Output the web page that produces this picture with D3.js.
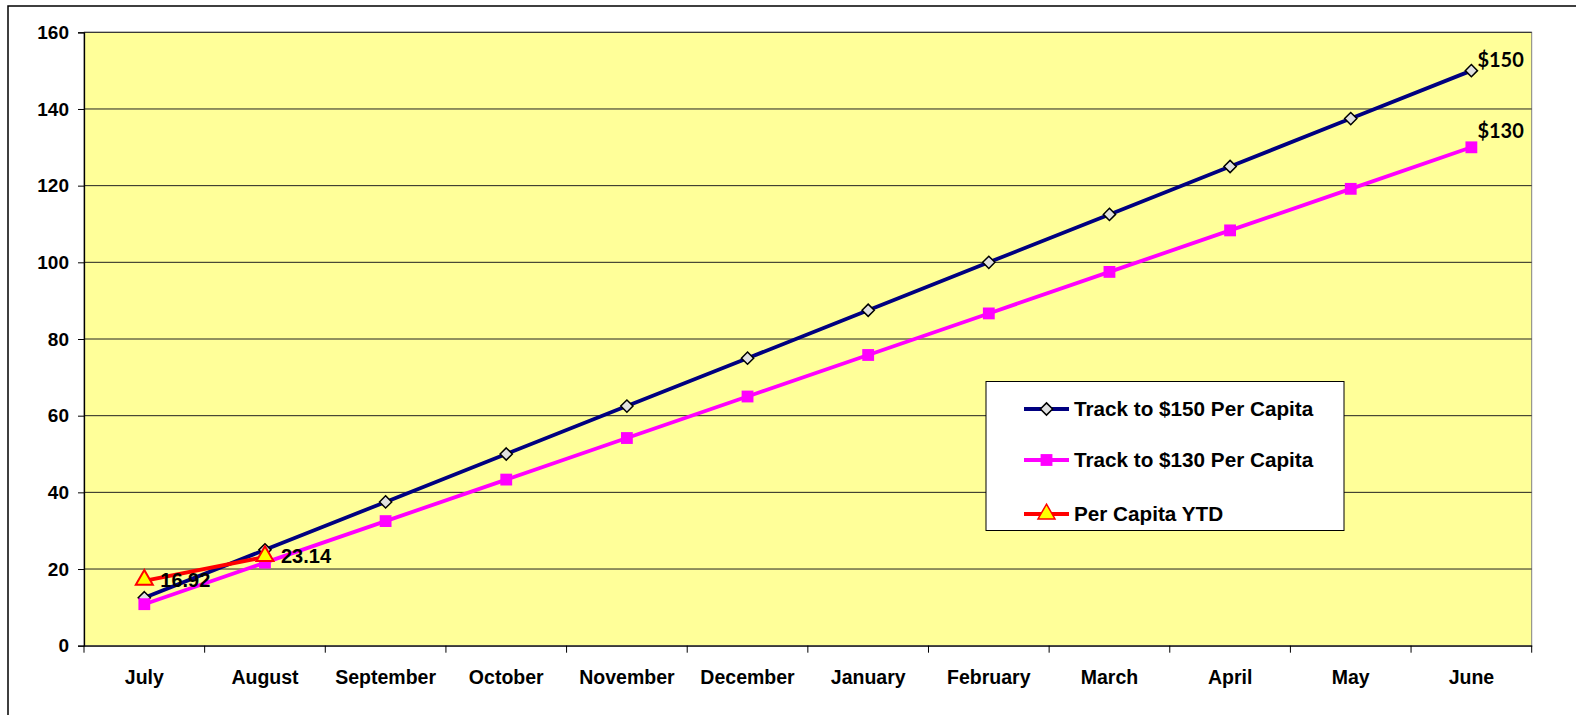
<html>
<head>
<meta charset="utf-8">
<title>Per Capita Track</title>
<script src="https://d3js.org/d3.v7.min.js"></script>
<style>
body { margin:0; background:#fff; }
.tick-label { font: bold 19px "Liberation Sans", Arial, sans-serif; fill:#000; }
.legend-text { font: bold 20.7px "Liberation Sans", Arial, sans-serif; fill:#000; }
.data-label { font: bold 20px "Liberation Sans", Arial, sans-serif; fill:#000; }
.end-label { font: bold 20px Lato, "Open Sans", sans-serif; fill:#000; }
</style>
</head>
<body>
<svg id="chart" width="1576" height="715"></svg>
<script>

// months of the fiscal year
const months = ["July", "August", "September", "October", "November", "December",
                "January", "February", "March", "April", "May", "June"];
const track150 = [12.5, 25, 37.5, 50, 62.5, 75, 87.5, 100, 112.5, 125, 137.5, 150];
const track130 = [10.83, 21.67, 32.5, 43.33, 54.17, 65, 75.83, 86.67, 97.5, 108.33, 119.17, 130];
const ytd = [16.92, 23.14];
const yTicks = [0, 20, 40, 60, 80, 100, 120, 140, 160];
const seriesNames = ["Track to $150 Per Capita", "Track to $130 Per Capita", "Per Capita YTD"];

const svg = d3.select("#chart");
const plot = { left: 84, top: 32.3, right: 1531.7, bottom: 645.7 };

const x = d3.scaleBand().domain(months).range([plot.left, plot.right]);
const y = d3.scaleLinear().domain([0, 160]).range([plot.bottom, plot.top]);
const cx = m => x(m) + x.bandwidth() / 2;

// outer frame (runs off the right and bottom edge)
svg.append("rect")
    .attr("x", 8).attr("y", 6).attr("width", 1700).attr("height", 900)
    .attr("fill", "none").attr("stroke", "#000").attr("stroke-width", 1.5);

// plot background
svg.append("rect")
    .attr("x", plot.left).attr("y", plot.top)
    .attr("width", plot.right - plot.left).attr("height", plot.bottom - plot.top)
    .attr("fill", "#ffff99").attr("stroke", "#808080").attr("stroke-width", 1);

// gridlines
svg.append("g").selectAll("line")
    .data(yTicks.filter(d => d > 0))
    .enter().append("line")
    .attr("x1", plot.left).attr("x2", plot.right)
    .attr("y1", d => y(d)).attr("y2", d => y(d))
    .attr("stroke", "#222").attr("stroke-width", 1);

// y axis
const yAxis = svg.append("g")
    .attr("transform", "translate(" + plot.left + ",0)")
    .call(d3.axisLeft(y).tickValues(yTicks).tickSize(6).tickPadding(9));
yAxis.select(".domain").attr("stroke", "#000").attr("stroke-width", 1.3);
yAxis.selectAll(".tick line").attr("stroke", "#000");
yAxis.selectAll(".tick text").attr("class", "tick-label").attr("font-size", null).attr("font-family", null);

// x axis
const xAxis = svg.append("g")
    .attr("transform", "translate(0," + plot.bottom + ")")
    .call(d3.axisBottom(x).tickSize(0).tickPadding(24));
xAxis.select(".domain").attr("stroke", "#000").attr("stroke-width", 1.3);
xAxis.selectAll(".tick text").attr("class", "tick-label").attr("font-size", null).attr("font-family", null)
    .style("font-size", "19.5px");
// tick marks between categories
svg.append("g").selectAll("line")
    .data(months.concat(["end"]))
    .enter().append("line")
    .attr("x1", (d, i) => plot.left + i * x.bandwidth())
    .attr("x2", (d, i) => plot.left + i * x.bandwidth())
    .attr("y1", plot.bottom).attr("y2", plot.bottom + 7)
    .attr("stroke", "#000");

const line = d3.line().x((d, i) => cx(months[i])).y(d => y(d));

function drawSeries(vals, color) {
    svg.append("path").datum(vals)
        .attr("d", line)
        .attr("fill", "none")
        .attr("stroke", color)
        .attr("stroke-width", 3.8);
}

const diamond = d3.symbol().type(d3.symbolDiamond2).size(95);
const square = d3.symbol().type(d3.symbolSquare).size(140);
const triangle = d3.symbol().type(d3.symbolTriangle).size(125);

drawSeries(track150, "#000080");
svg.append("g").selectAll("path")
    .data(track150).enter().append("path")
    .attr("d", diamond)
    .attr("transform", (d, i) => "translate(" + cx(months[i]) + "," + y(d) + ")")
    .attr("fill", "#e0e0e0").attr("stroke", "#000").attr("stroke-width", 1.5);

drawSeries(track130, "#ff00ff");
svg.append("g").selectAll("path")
    .data(track130).enter().append("path")
    .attr("d", square)
    .attr("transform", (d, i) => "translate(" + cx(months[i]) + "," + y(d) + ")")
    .attr("fill", "#ff00ff");

drawSeries(ytd, "#ff0000");
svg.append("g").selectAll("path")
    .data(ytd).enter().append("path")
    .attr("d", triangle)
    .attr("transform", (d, i) => "translate(" + cx(months[i]) + "," + (y(d) - 1) + ")")
    .attr("fill", "#ffff00").attr("stroke", "#ff0000").attr("stroke-width", 2);

// data labels
svg.append("g").selectAll("text")
    .data(ytd).enter().append("text")
    .attr("class", "data-label")
    .attr("x", (d, i) => cx(months[i]) + 16)
    .attr("y", d => y(d) + 6)
    .text(d => d.toFixed(2));

svg.append("text").attr("class", "end-label")
    .attr("x", cx("June") + 6).attr("y", y(track150[11]) - 4)
    .text("$150");
svg.append("text").attr("class", "end-label")
    .attr("x", cx("June") + 6).attr("y", y(track130[11]) - 9)
    .text("$130");

// legend
const legend = svg.append("g").attr("transform", "translate(986,381.5)");
legend.append("rect")
    .attr("width", 358).attr("height", 149)
    .attr("fill", "#fff").attr("stroke", "#000").attr("stroke-width", 1);

const legendItems = [
    { name: seriesNames[0], color: "#000080", sym: diamond, fill: "#e0e0e0", stroke: "#000" },
    { name: seriesNames[1], color: "#ff00ff", sym: square, fill: "#ff00ff", stroke: "none" },
    { name: seriesNames[2], color: "#ff0000", sym: triangle, fill: "#ffff00", stroke: "#ff0000" }
];
const rowY = [27.5, 78.5, 132.5];
const rows = legend.selectAll(".row").data(legendItems).enter().append("g")
    .attr("transform", (d, i) => "translate(0," + rowY[i] + ")");
rows.append("line")
    .attr("x1", 38).attr("x2", 83).attr("y1", 0).attr("y2", 0)
    .attr("stroke", d => d.color).attr("stroke-width", 3.8);
rows.append("path")
    .attr("d", d => d.sym())
    .attr("transform", "translate(60.5,0)")
    .attr("fill", d => d.fill).attr("stroke", d => d.stroke).attr("stroke-width", 1.5);
rows.append("text")
    .attr("class", "legend-text")
    .attr("x", 88).attr("y", 7)
    .text(d => d.name);

</script>
</body>
</html>
